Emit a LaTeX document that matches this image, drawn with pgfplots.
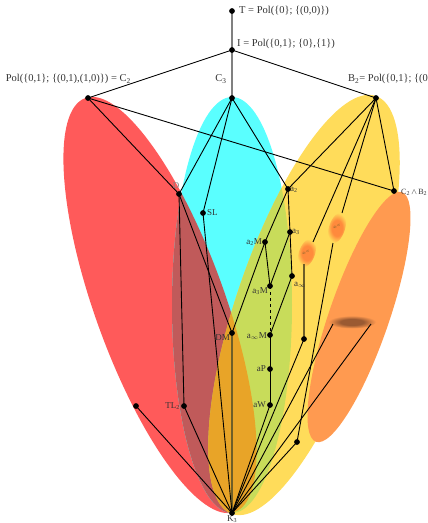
\documentclass[border=0pt]{standalone}
\usepackage{pgfplots}
\pgfplotsset{compat=1.18}
\usepackage{fontspec}
\setmainfont{Liberation Serif}

\definecolor{cRed}{HTML}{FF5A5A}
\definecolor{cCyan}{HTML}{5AFFFF}
\definecolor{cYel}{HTML}{FFDC5A}
\definecolor{cOra}{HTML}{FF9A50}
\definecolor{cRedCyan}{HTML}{C05A5A}
\definecolor{cYelCyan}{HTML}{C8DC5A}
\definecolor{cOchre}{HTML}{E8A428}
\definecolor{cBlob}{HTML}{FF8A3C}
\definecolor{cDark}{HTML}{9A5A32}
\definecolor{cLbl}{HTML}{333333}
\definecolor{cOlive}{HTML}{6E5E28}

% filled / clipping ellipse: colour, centre x, centre y, radii, rotation
\newcommand{\ellfill}[6]{\fill[#1, shift={(axis cs:#2,#3)}, rotate=#6] (0,0) ellipse [x radius=#4pt, y radius=#5pt];}
\newcommand{\ellclip}[5]{\clip[shift={(axis cs:#1,#2)}, rotate=#5] (0,0) ellipse [x radius=#3pt, y radius=#4pt];}

\pgfdeclareradialshading{blobshade}{\pgfpoint{0bp}{0bp}}{color(0bp)=(cBlob); color(13bp)=(cBlob); color(25bp)=(cYel); color(50bp)=(cYel)}
\pgfdeclareradialshading{darkshade}{\pgfpoint{0bp}{0bp}}{color(0bp)=(cDark); color(12bp)=(cDark); color(25bp)=(cOra); color(50bp)=(cOra)}

\newcommand{\edge}[5][black, line width=0.9pt]{\addplot[#1] coordinates {(#2,#3) (#4,#5)};}

\begin{document}
\begin{tikzpicture}
\begin{axis}[scale only axis, width=428pt, height=523pt,
  xmin=0, xmax=428, ymin=0, ymax=523, y dir=reverse,
  hide axis, clip=false]

% regions
\ellfill{cRed}{160}{305}{220}{65}{-70.13}
\ellfill{cCyan}{232}{305}{60}{208}{0}
\ellfill{cYel}{304}{305}{221}{67}{71.04}
\begin{scope}
  \ellclip{232}{305}{60}{208}{0}
  \ellfill{cRedCyan}{160}{305}{220}{65}{-70.13}
  \ellfill{cYelCyan}{304}{305}{221}{67}{71.04}
\end{scope}
\begin{scope}
  \ellclip{232}{305}{60}{208}{0}
  \ellclip{160}{305}{220}{65}{-70.13}
  \ellfill{cOchre}{304}{305}{221}{67}{71.04}
\end{scope}
\ellfill{cOra}{359}{317}{132}{30}{71}
\shade[shading=blobshade, shift={(axis cs:307,253)}, rotate=70] (0,0) ellipse [x radius=15pt, y radius=8pt];
\shade[shading=blobshade, shift={(axis cs:337,228)}, rotate=72] (0,0) ellipse [x radius=16pt, y radius=8pt];
\shade[shading=darkshade, shift={(axis cs:352,322)}] (0,0) ellipse [x radius=24pt, y radius=6.5pt];

% grey edges
\edge[gray, line width=2pt]{232}{11}{232}{50}
\edge[gray, line width=2pt]{232}{50}{232}{98}
\edge[cOlive, line width=1.6pt]{232}{333}{232}{513}
\edge[cOlive, line width=1.6pt]{304}{264}{304}{339}

% black edges
\edge{232}{50}{88}{98}
\edge{232}{50}{376}{98}
\edge{88}{98}{179}{194}
\edge{88}{98}{394}{191}
\edge{232}{98}{179}{194}
\edge{232}{98}{203}{213}
\edge{232}{98}{288}{189}
\edge{376}{98}{288}{189}
\edge{376}{98}{313}{242}
\edge{376}{98}{342}{213}
\edge{376}{98}{394}{191}
\edge{179}{194}{184}{406}
\edge{179}{194}{232}{333}
\edge{203}{213}{232}{513}
\edge{288}{189}{265}{242}
\edge{288}{189}{290}{232}
\edge{265}{242}{232}{333}
\edge{265}{242}{270}{286}
\edge{290}{232}{270}{286}
\edge{290}{232}{292}{276}
\edge[black, line width=0.9pt, dashed]{270}{286}{270}{335}
\edge{292}{276}{270}{335}
\edge{270}{335}{270}{369}
\edge{270}{369}{270}{405}
\edge{270}{405}{232}{513}
\edge{184}{406}{232}{513}
\edge{136}{406}{232}{513}
\edge{304}{339}{232}{513}
\edge{333}{243}{297}{442}
\edge{297}{442}{232}{513}
\edge{333}{324}{232}{513}
\edge{371}{324}{232}{513}

% vertices
\addplot[only marks, mark=*, mark size=2.6pt, black] coordinates {
(232,11) (232,50) (88,98) (232,98) (376,98) (179,194) (203,213)
(288,189) (394,191) (265,242) (290,232) (270,286) (292,276)
(232,333) (270,335) (270,369) (270,405) (184,406) (136,406)
(304,339) (297,442) (232,513)};

% labels
\begin{scope}[every node/.style={font=\fontsize{10.5}{11}\selectfont, text=cLbl, inner sep=0pt}]
\node[anchor=west] at (axis cs:239,11) {T = Pol(\{0\}; \{(0,0)\})};
\node[anchor=west] at (axis cs:237,44) {I = Pol(\{0,1\}; \{0\},\{1\})};
\node[anchor=east] at (axis cs:131,79) {Pol(\{0,1\}; \{(0,1),(1,0)\}) = C\textsubscript{2}};
\node at (axis cs:221,79) {C\textsubscript{3}};
\node[anchor=west] at (axis cs:348,79) {B\textsubscript{2}= Pol(\{0,1\}; \{(0,0),(1,1)\})};
\end{scope}
\begin{scope}[every node/.style={font=\fontsize{9}{10}\selectfont, text=cLbl, inner sep=0pt}]
\node[text=gray] at (axis cs:176,186) {D};
\node[anchor=west] at (axis cs:207,213) {SL};
\node[anchor=west] at (axis cs:290,190) {a\textsubscript{2}};
\node[anchor=west, font=\fontsize{8}{9}\selectfont] at (axis cs:401,192) {C\textsubscript{2}\,$\wedge$\,B\textsubscript{2}};
\node[anchor=east] at (axis cs:262,242) {a\textsubscript{2}M};
\node[anchor=west] at (axis cs:292,232) {a\textsubscript{3}};
\node[anchor=east] at (axis cs:268,291) {a\textsubscript{3}M};
\node at (axis cs:300,285) {a$_{\infty}$};
\node[anchor=east] at (axis cs:267,336) {a$_{\infty}$M};
\node[anchor=east] at (axis cs:230,338) {DM};
\node[anchor=east] at (axis cs:266,369) {aP};
\node[anchor=east] at (axis cs:266,405) {aW};
\node[anchor=east] at (axis cs:180,406) {TL\textsubscript{2}};
\node at (axis cs:232,519) {K\textsubscript{3}};
\node[font=\fontsize{4}{4}\selectfont, text=cOlive] at (axis cs:306,252) {$x^c$};
\node[font=\fontsize{4}{4}\selectfont, text=cOlive] at (axis cs:337,226) {$x^c$};
\end{scope}
\end{axis}
\pgfresetboundingbox
\useasboundingbox (current axis.south west) rectangle (current axis.north east);
\end{tikzpicture}
\end{document}
